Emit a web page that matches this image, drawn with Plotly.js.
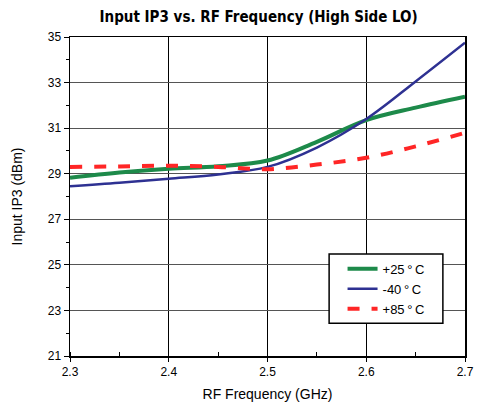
<!DOCTYPE html>
<html><head><meta charset="utf-8">
<script src="https://cdn.plot.ly/plotly-3.0.1.min.js"></script>
<style>body{margin:0;background:#fff}#c{width:479px;height:407px}</style>
</head><body><div id="c"></div>
<script>
var freq = [2.3, 2.35, 2.4, 2.45, 2.5, 2.55, 2.6, 2.65, 2.7];
var ip3_25 = [28.82, 29.05, 29.22, 29.33, 29.58, 30.4, 31.35, 31.9, 32.38];
var ip3_m40 = [28.45, 28.6, 28.78, 28.97, 29.3, 30.15, 31.4, 33.05, 34.75];
var ip3_85 = [29.3, 29.32, 29.35, 29.3, 29.2, 29.4, 29.7, 30.2, 30.8];
var names = ['+25\u2009°\u2009C', '-40\u2009°\u2009C', '+85\u2009°\u2009C'];

var font = '"Liberation Sans", Arial, sans-serif';
var tfont = '"DejaVu Sans Condensed", "DejaVu Sans", sans-serif';
var traces = [
  {x: freq, y: ip3_25, name: names[0], mode: 'lines', line: {color: '#1d8a4a', width: 4, shape: 'spline'}},
  {x: freq, y: ip3_m40, name: names[1], mode: 'lines', line: {color: '#2e3192', width: 2.5, shape: 'spline'}},
  {x: freq, y: ip3_85, name: names[2], mode: 'lines', line: {color: '#ff2626', width: 4, dash: 'dash', shape: 'spline'}}
];
var layout = {
  width: 479, height: 407,
  margin: {l: 70, r: 14, t: 37, b: 51},
  paper_bgcolor: '#fff', plot_bgcolor: '#fff',
  font: {family: font, size: 12, color: '#000'},
  title: {text: '<b>Input IP3 vs. RF Frequency (High Side LO)</b>', font: {family: tfont, size: 15, color: '#000'}, xref: 'container', x: 0.54, xanchor: 'center', y: 0.958, yanchor: 'middle'},
  xaxis: {
    range: [2.3, 2.7], dtick: 0.1, tick0: 2.3, tickformat: '.1f',
    showline: true, linecolor: '#000', linewidth: 1.5, mirror: true,
    showgrid: true, gridcolor: '#000', gridwidth: 1.3,
    ticks: 'outside', ticklen: 4, tickcolor: '#000',
    minor: {dtick: 0.05, ticks: 'inside', ticklen: 4, tickcolor: '#000', showgrid: false},
    zeroline: false,
    title: {text: 'RF Frequency (GHz)', font: {size: 14}, standoff: 11}
  },
  yaxis: {
    range: [21, 35], dtick: 2, tick0: 21,
    showline: true, linecolor: '#000', linewidth: 1.5, mirror: true,
    showgrid: true, gridcolor: '#555', gridwidth: 1,
    ticks: 'outside', ticklen: 5, tickcolor: '#000',
    minor: {dtick: 1, ticks: 'outside', ticklen: 3, tickcolor: '#000', showgrid: false},
    zeroline: false,
    title: {text: 'Input IP3 (dBm)', font: {size: 14}, standoff: 22}
  },
  shapes: [{type: 'rect', xref: 'paper', yref: 'paper', x0: 0.656, x1: 0.944, y0: 0.103, y1: 0.32,
    fillcolor: '#fff', line: {color: '#000', width: 1.5}, layer: 'above'}],
  showlegend: true,
  legend: {x: 0.69, y: 0.32, xanchor: 'left', yanchor: 'top', bgcolor: 'rgba(0,0,0,0)', borderwidth: 0,
    font: {size: 13}, tracegroupgap: 0, itemwidth: 30}
};
Plotly.newPlot('c', traces, layout, {displayModeBar: false, staticPlot: true});
</script>
</body></html>
